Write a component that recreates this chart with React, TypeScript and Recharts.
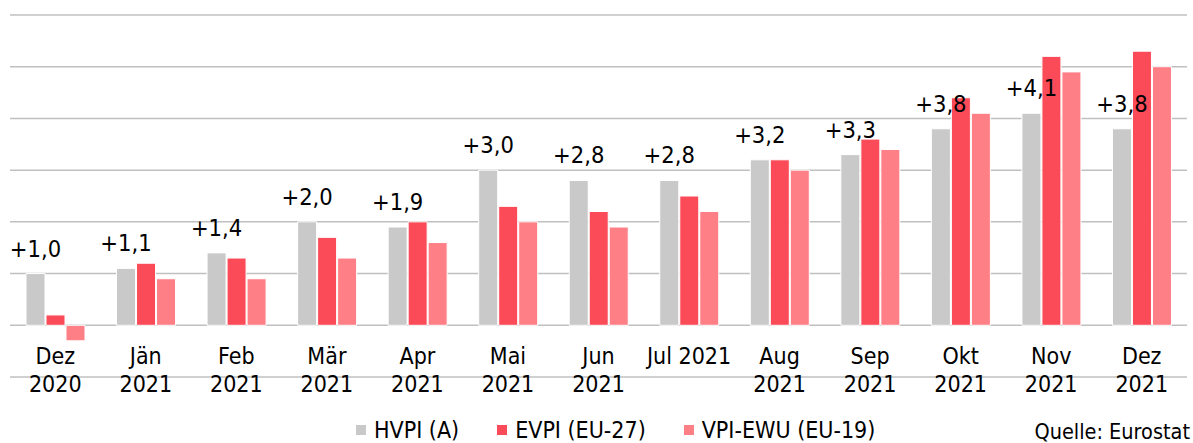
import React from 'react';
import { BarChart, Bar, XAxis, YAxis, CartesianGrid, LabelList, Legend } from 'recharts';

const months = [
  'Dez\n2020', 'Jän\n2021', 'Feb\n2021', 'Mär\n2021', 'Apr\n2021', 'Mai\n2021', 'Jun\n2021',
  'Jul 2021', 'Aug\n2021', 'Sep\n2021', 'Okt\n2021', 'Nov\n2021', 'Dez\n2021',
];
const hvpi = [1.0, 1.1, 1.4, 2.0, 1.9, 3.0, 2.8, 2.8, 3.2, 3.3, 3.8, 4.1, 3.8];
const evpi = [0.2, 1.2, 1.3, 1.7, 2.0, 2.3, 2.2, 2.5, 3.2, 3.6, 4.4, 5.2, 5.3];
const ewu = [-0.3, 0.9, 0.9, 1.3, 1.6, 2.0, 1.9, 2.2, 3.0, 3.4, 4.1, 4.9, 5.0];
const yTicks = [-1, 0, 1, 2, 3, 4, 5, 6];

const series = [
  { key: 'hvpi', name: 'HVPI (A)', color: '#c9c9c9' },
  { key: 'evpi', name: 'EVPI (EU-27)', color: '#fc4b58' },
  { key: 'ewu', name: 'VPI-EWU (EU-19)', color: '#ff7f87' },
];

const data = months.map((m, i) => ({ month: m, hvpi: hvpi[i], evpi: evpi[i], ewu: ewu[i] }));

const FONT = "'DejaVu Sans Condensed', 'DejaVu Sans', sans-serif";

const fmt = (v: number) => '+' + v.toFixed(1).replace('.', ',');

const MonthTick = (props: any) => {
  const { x, y, payload } = props;
  const lines = String(payload.value).split('\n');
  return (
    <g>
      {lines.map((l, i) => (
        <text key={i} x={x} y={y - 13 + i * 28} textAnchor="middle" fontSize={23} fontFamily={FONT} fill="#000">
          {l}
        </text>
      ))}
    </g>
  );
};

const ValueLabel = (props: any) => {
  const { x, y, width, value } = props;
  return (
    <text x={x + width / 2} y={y - 17} textAnchor="middle" fontSize={23.5} fontFamily={FONT} fill="#000">
      {fmt(value)}
    </text>
  );
};

const LegendContent = () => (
  <div style={{ display: 'flex', alignItems: 'center', fontFamily: FONT, fontSize: 23, lineHeight: '24px', color: '#000' }}>
    {series.map((s) => (
      <div key={s.key} style={{ display: 'flex', alignItems: 'center', marginRight: 38, whiteSpace: 'nowrap' }}>
        <span style={{ display: 'inline-block', width: 10, height: 10, background: s.color, marginRight: 8 }} />
        <span>{s.name}</span>
      </div>
    ))}
  </div>
);

export default function App() {
  return (
    <div style={{ position: 'absolute', left: 0, top: 0, width: 1193, height: 443, background: '#fff', overflow: 'hidden' }}>
      <BarChart
        width={1193}
        height={443}
        data={data}
        margin={{ top: 15, right: 6, left: 10, bottom: 0 }}
        barSize={19}
        barGap={1}
      >
        <CartesianGrid vertical={false} stroke="#c0c0c0" strokeWidth={1.5} />
        <XAxis
          dataKey="month"
          height={66}
          axisLine={false}
          tickLine={false}
          tickSize={0}
          tickMargin={0}
          interval={0}
          tick={<MonthTick />}
        />
        <YAxis hide domain={[-1, 6]} ticks={yTicks} />
        <Legend
          layout="horizontal"
          verticalAlign="middle"
          align="center"
          content={<LegendContent />}
          wrapperStyle={{ left: 356, top: 418, width: 'auto', height: 24 }}
        />
        {series.map((s) => (
          <Bar key={s.key} dataKey={s.key} name={s.name} fill={s.color} stroke="#fff" strokeWidth={1} isAnimationActive={false}>
            {s.key === 'hvpi' && <LabelList dataKey="hvpi" content={<ValueLabel />} />}
          </Bar>
        ))}
      </BarChart>
      <div
        style={{
          position: 'absolute',
          right: 3,
          top: 420,
          fontFamily: FONT,
          fontSize: 21.5,
          lineHeight: '24px',
          color: '#000',
          whiteSpace: 'nowrap',
        }}
      >
        Quelle: Eurostat
      </div>
    </div>
  );
}
